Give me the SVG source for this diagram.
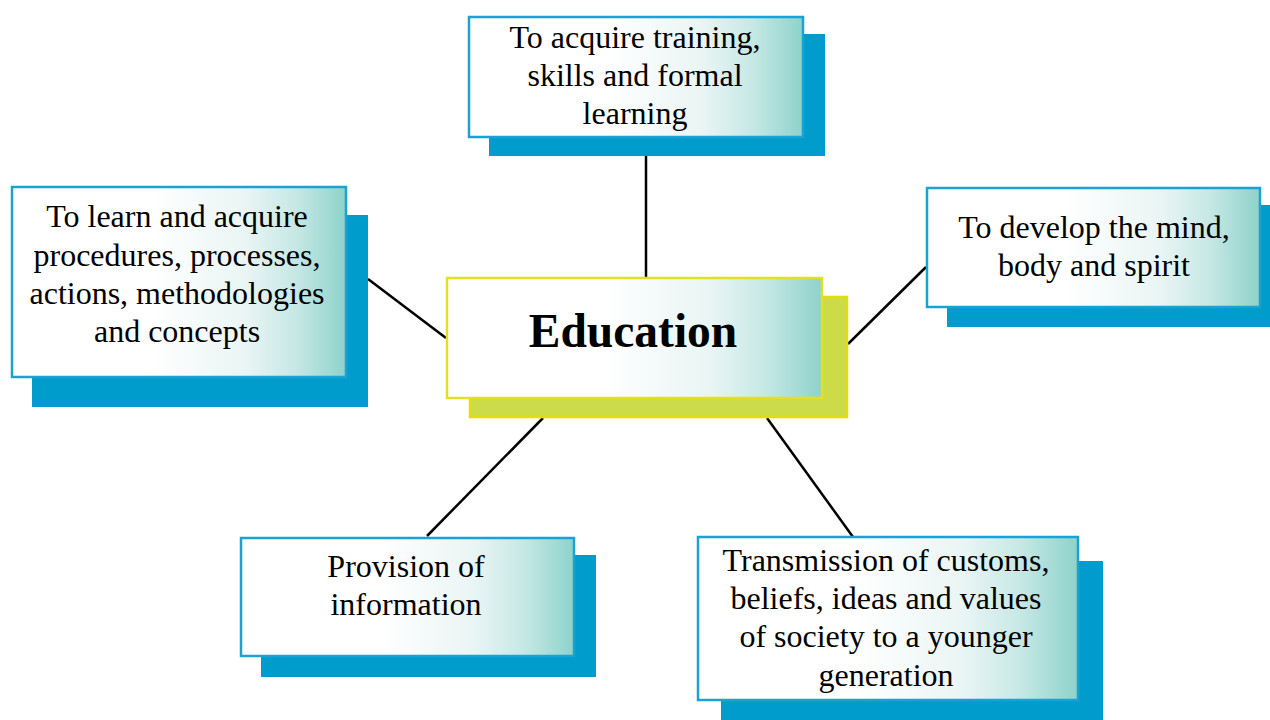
<svg xmlns="http://www.w3.org/2000/svg" width="1270" height="720" viewBox="0 0 1270 720">
<defs>
<linearGradient id="g" x1="0" y1="0" x2="1" y2="0">
<stop offset="0" stop-color="#ffffff"/>
<stop offset="0.42" stop-color="#ffffff"/>
<stop offset="0.7" stop-color="#e9f5f4"/>
<stop offset="0.85" stop-color="#c6e8e5"/>
<stop offset="1" stop-color="#8ed2cb"/>
</linearGradient>
<style>
.sh{fill:#009ccb}
.bx{fill:url(#g);stroke:#1aa3d2;stroke-width:2.5}
.csh{fill:#cbdc48;stroke:#e2dc10;stroke-width:2.5}
.cbx{fill:url(#g);stroke:#e2e020;stroke-width:2.5}
.t{font-family:"Liberation Serif","Times New Roman",serif;font-size:32px;fill:#000;text-anchor:middle}
.ct{font-family:"Liberation Serif","Times New Roman",serif;font-size:47.5px;font-weight:bold;fill:#000;text-anchor:middle}
.ln{stroke:#000;stroke-width:2.5;fill:none}
</style>
</defs>
<rect width="1270" height="720" fill="#fff"/>
<g id="connectors">
<line class="ln" x1="646" y1="156" x2="646" y2="278"/>
<line class="ln" x1="368" y1="279" x2="446" y2="338"/>
<line class="ln" x1="848" y1="344" x2="926" y2="267"/>
<line class="ln" x1="427" y1="536" x2="543" y2="418"/>
<line class="ln" x1="767" y1="418" x2="853" y2="537"/>
</g>
<g id="node-top">
<rect class="sh" x="489" y="34" width="336" height="122"/>
<rect class="bx" x="469" y="17" width="334" height="120"/>
<text class="t" x="635" y="48">To acquire training,</text>
<text class="t" x="635" y="86">skills and formal</text>
<text class="t" x="635" y="124">learning</text>
</g>
<g id="node-left">
<rect class="sh" x="32" y="215" width="336" height="192"/>
<rect class="bx" x="12" y="187" width="334" height="190"/>
<text class="t" x="177" y="227">To learn and acquire</text>
<text class="t" x="177" y="266">procedures, processes,</text>
<text class="t" x="177" y="304">actions, methodologies</text>
<text class="t" x="177" y="342">and concepts</text>
</g>
<g id="node-right">
<rect class="sh" x="947" y="205" width="323" height="122"/>
<rect class="bx" x="927" y="188" width="333" height="119"/>
<text class="t" x="1094" y="238">To develop the mind,</text>
<text class="t" x="1094" y="276">body and spirit</text>
</g>
<g id="node-bottom-left">
<rect class="sh" x="261" y="555" width="335" height="122"/>
<rect class="bx" x="241" y="538" width="333" height="118"/>
<text class="t" x="406" y="577">Provision of</text>
<text class="t" x="406" y="615">information</text>
</g>
<g id="node-bottom-right">
<rect class="sh" x="721" y="561" width="382" height="159"/>
<rect class="bx" x="698" y="537" width="380" height="163"/>
<text class="t" x="886" y="571">Transmission of customs,</text>
<text class="t" x="886" y="609">beliefs, ideas and values</text>
<text class="t" x="886" y="647">of society to a younger</text>
<text class="t" x="886" y="686">generation</text>
</g>
<g id="node-center">
<rect class="csh" x="470" y="297" width="377" height="120"/>
<rect class="cbx" x="447" y="278" width="375" height="120"/>
<text class="ct" x="633" y="347">Education</text>
</g>
</svg>
